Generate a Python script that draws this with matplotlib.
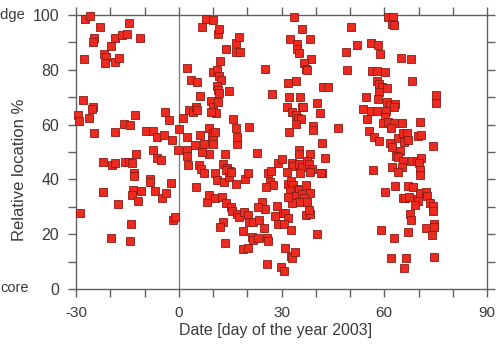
import matplotlib
matplotlib.use("Agg")
import matplotlib.pyplot as plt
from matplotlib.ticker import MultipleLocator, FixedLocator

# Day of year 2003 (x) and relative location % (y)
day = [
    # before day 0
    -27.5, -26, -23.1, -14.6, -24.6, -25.1, -18.7, -16.7, -15.2, -11.4, -19.9, -27.8, -21.9, -21.3, -21.6, -18.7, -17.5,
    -28, -25.1, -25.4, -29.5, -29.2, -26.3, -24.6, -18.7, -16, -14.3, -12.9, -9.6, -7.6, -6.4, -4.4, -4.1, -2.9, -2, 0, -0.3,
    -7.6, -6.4, -5.3, -12.6, -22.2, -19.6, -18.7, -15.8, -14.6, -13.7, -13.2,
    -28.7, -22.2, -19.9, -17.8, -14.3, -14, -13.5, -13.7, -13.2, -12, -11.1, -8.5, -8.5, -7, -5, -3.8, -2.3, -1.8, -1.2,
    # day 0 - 22
    6.7, 7.9, 9.9, 11.4, 11.7, 13.7, 16.7, 17.5, 16.7, 17.8, 12,
    2.3, 3.5, 5.3, 6.1, 2.9, 4.1, 5, 5.3, 9.9, 11.1, 11.7, 12.3, 11.1, 11.4, 11.7, 14.6, 9.4, 9.9, 10.8, 11.4, 9.4,
    15.8, 16.7, 17, 20.5, 1.2, 2.3, 6.1, 4.7, 7.3, 8.8, 9.9, 9.6, 9.9, 10.5, 9.9, 8.8, 6.7, 2.3, 2.3, 2.6, 5.8, 6.4,
    13.5, 12.9, 14, 14.9, 17, 7.5, 10.6, 13.7,
    5, 11.1, 13.2, 14.6, 15.2, 16.7, 19.2, 20.2, 8.2, 8.8, 10.5, 12.6, 13.7, 15.2, 15.5, 17, 17.5, 19, 20.2, 20.5,
    12.9, 12, 13.5, 18.7, 18.7, 20.2,
    # day 21 - 48
    33.6, 36, 32.5, 38.3, 34.5, 34.5, 35.1, 38.6, 36.5, 37.1, 37.4, 25.1, 34.2, 31.9, 42.1, 43.6, 27.2, 32.2, 35.4,
    40.4, 31.6, 36, 36.3, 33, 34.2, 34.8, 35.7, 34.2, 41.2, 39.2, 39.2, 32.2, 46.5,
    22.8, 41.8, 35.1, 35.1, 38.3, 42.7, 28.9, 30.1, 33, 33.3, 35.1, 36, 37.4, 38, 38.9, 35.4, 41.8, 31.6,
    26, 26.9, 26.6, 27.5, 25.4, 31.9, 32.7, 33.3, 34.5, 35.1, 32.5, 33.9, 36, 37.1, 38.3, 36.5, 35.1, 33, 31.9, 37.4,
    38.3, 41.5, 24.3, 25.1, 23.1, 21.6, 23.4, 28.7, 30.4, 31.1, 28.1, 31.9, 28.9, 30.7, 32.7, 37.1, 38.3, 38,
    40.4, 24.9, 25.7, 26, 21.3, 21.6, 23.1, 31, 32.7, 33, 33.9, 25.7, 29.8, 30.7,
    # day 48 - 76
    50.3, 61.1, 62.6, 62.3, 62.9, 48.8, 52, 56.1, 58.2, 58.8, 64.9, 67.8, 49.1, 56.4, 57.9, 60.2, 68.1, 57.9, 58.5,
    59.4, 60.8, 58.5, 54.7, 58.2, 60.8, 61.7, 63.2, 62.9, 53.8, 56.1, 57.9, 60.5, 55, 60.2, 59.6, 61.1, 62.9, 65.2,
    62, 70.5, 75.1, 75.1, 55.6, 57, 58.5, 61.7, 62.3, 64, 65.5, 66.7, 65.8, 67, 69.9, 70.8, 74.3, 64.6, 63.5, 64,
    65.5, 68.1, 69.6, 70.8, 70.2, 62.3, 65.2, 56.7, 64, 70.5,
    70.5, 59.1, 60.2, 63.2, 67, 68.4, 65.5, 66.1, 67.3, 69.6, 69.9, 69, 70.5, 72.2, 72.5, 73.4, 74.3, 74.3, 67.5,
    67.8, 62.9, 67, 72.2, 74.6, 74.6, 74, 62, 66.4, 65.8, 74.6,
]
location = [
    98.5, 99.6, 95.6, 97.1, 91.6, 90.1, 91.6, 92.7, 93, 91.6, 88.7, 84, 85.8, 84.7, 82.5, 82.8, 84.3,
    69, 66.4, 65.7, 63.5, 61.3, 62.4, 56.9, 57.3, 60.2, 59.9, 63.5, 57.7, 57.7, 55.5, 56.2, 64.6, 61.7, 54.4, 58.4, 50.7,
    50.7, 47.8, 47.1, 49.3, 46.4, 45.3, 46, 46.4, 46.4, 46, 42.3,
    27.7, 35.4, 18.6, 31, 17.5, 23.7, 36.1, 34.3, 41.2, 32.1, 35.8, 40.1, 39, 35.8, 33.2, 35, 38.7, 25.2, 26.3,
    95.6, 98.5, 98.2, 93, 94.9, 87.6, 89.8, 92, 86.5, 86.5, 83.2,
    80.7, 76.3, 75.5, 70.4, 65.3, 64.6, 66.4, 65.3, 79.2, 79.9, 77.7, 76.3, 74.1, 72.6, 71.5, 72.3, 68.6, 66.4, 64.2, 68.2, 64.6,
    62, 58.8, 52.9, 59.1, 62.4, 55.5, 56.2, 52.6, 52.9, 58.8, 56.9, 55.5, 54.4, 57.3, 52.9, 49.3, 50, 50.7, 48.5, 45.3, 45.3, 43.8,
    49.3, 45.6, 44.2, 43.1, 55.5, 42.5, 42.3, 43.4,
    37.2, 39.8, 39, 40.9, 42.7, 38.3, 40.3, 42.2, 31.8, 34.3, 33.2, 33.6, 31.4, 29.9, 28.5, 27.4, 26.3, 28.1, 27, 24.5,
    24.5, 22.6, 16.8, 21.2, 14.6, 15,
    99.3, 94.9, 91.2, 91.2, 89.4, 87.6, 86.1, 83.9, 82.5, 80.3, 79.9, 80.3, 75.9, 75.2, 73.7, 73.7, 71.2, 70.1, 70.1,
    67.9, 66.4, 66.4, 66.4, 64.6, 63.5, 62.4, 62, 60.2, 64.2, 59.5, 58, 57.3, 58.8,
    49.6, 53.3, 50.7, 49.3, 49.3, 47.8, 46, 47.4, 46, 44.9, 45.6, 44.5, 46.7, 45.6, 43.8, 42.3, 42.3, 42.7,
    42.3, 43, 39, 38, 37.2, 38.3, 39.4, 38, 36.5, 36.1, 35.8, 33.9, 34.7, 38, 35, 33.2, 31.8, 31.4, 33.6, 31.8,
    42.7, 42.3, 31.8, 29.2, 29.9, 24.5, 25.2, 30.3, 27.7, 27.7, 26.6, 25.9, 23.7, 23.7, 21.5, 27, 27.4, 28.8,
    20.1, 22.3, 18.6, 17.5, 19, 17.9, 18.6, 15, 12, 11.3, 13.5, 9.1, 8, 6.6,
    95.6, 99.3, 99.3, 96.7, 96.4, 86.5, 89, 89.8, 89, 85.8, 84.3, 83.9, 79.9, 79.6, 79.6, 79.2, 75.9, 75.9, 74.8,
    73.7, 73.4, 71.9, 70.1, 69.3, 68.2, 67.2, 67.5, 66.4, 65.7, 65, 65, 65, 62, 62.8, 60.6, 60.9, 60.6, 60.6,
    58.8, 60.9, 70.8, 67.9, 57.7, 55.5, 54, 53.3, 51.8, 55.1, 56.9, 56.9, 53.6, 54.4, 55.8, 56.2, 52.2, 50.4, 48.5, 48.2,
    46.7, 46.7, 46.7, 47.8, 46, 44.5, 44.5, 43.4, 42.7, 43.4,
    41.6, 21.5, 35.4, 37.6, 37.6, 37.2, 33.2, 33.2, 33.6, 32.8, 32.1, 30.7, 35, 35.4, 33.9, 31.4, 30.3, 28.5, 27.4,
    25.2, 18.6, 20.8, 22.3, 23.7, 22.6, 19.7, 11.3, 11.3, 7.7, 11.7,
]

x_ticks = [-30, 0, 30, 60, 90]
x_tick_labels = ['-30', '0', '30', '60', '90']
y_ticks = [0, 20, 40, 60, 80, 100]
y_tick_labels = ['0', '20', '40', '60', '80', '100']

plt.rcParams['font.family'] = ['Liberation Sans', 'DejaVu Sans']
text_color = '#3a3a3a'
axis_color = '#606060'

fig = plt.figure(figsize=(4.97, 3.45), dpi=100)
ax = fig.add_axes([76/497, 1 - 289/345, (487 - 76)/497, (289 - 15)/345])

ax.axvline(0, color='#808080', lw=1.0, zorder=1)
ax.plot(day, location, linestyle='none', marker='s', markersize=5.2,
        markerfacecolor='#ec2a20', markeredgecolor='#8a1c14', markeredgewidth=0.6,
        clip_on=False, zorder=3)

ax.set_xlim(-30, 90)
ax.set_ylim(0, 100)
ax.xaxis.set_major_locator(FixedLocator(x_ticks))
ax.set_xticklabels(x_tick_labels)
ax.xaxis.set_minor_locator(MultipleLocator(10))
ax.yaxis.set_major_locator(FixedLocator(y_ticks))
ax.set_yticklabels(y_tick_labels)
ax.yaxis.set_minor_locator(MultipleLocator(10))

for sp in ax.spines.values():
    sp.set_color(axis_color)
    sp.set_linewidth(1.0)

ax.tick_params(which='both', direction='out', length=6, width=1.0, color=axis_color,
               top=True, right=True, labeltop=False, labelright=False)
ax.tick_params(axis='x', which='major', labelsize=11, labelcolor=text_color, pad=6)
ax.tick_params(axis='y', which='major', labelsize=11.5, labelcolor=text_color, pad=6)

fig.text(276/497, 1 - 330/345, 'Date [day of the year 2003]', ha='center', va='center',
         fontsize=11.5, color=text_color)
fig.text(20/497, 1 - 170/345, 'Relative location %', ha='center', va='center',
         rotation=90, fontsize=12, color=text_color)

fig.text(29/497, 1 - 288/345, 'core', ha='right', va='center', fontsize=10.5, color=text_color)
fig.text(25/497, 1 - 15/345, 'edge', ha='right', va='center', fontsize=10.5, color=text_color)

fig.savefig('out.png', dpi=100)
